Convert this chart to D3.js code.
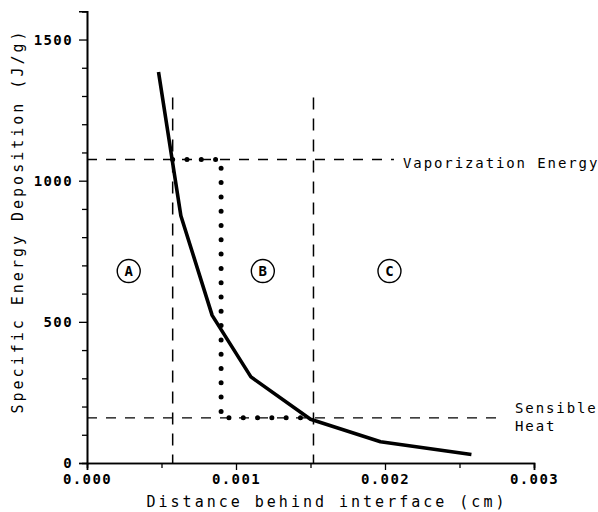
<!DOCTYPE html>
<html>
<head>
<meta charset="utf-8">
<script src="https://cdn.jsdelivr.net/npm/d3@7"></script>
<style>
  body { margin: 0; background: #fff; }
  text { font-family: "DejaVu Sans Mono", monospace; fill: #000; }
</style>
</head>
<body>
<svg id="chart" width="598" height="512"></svg>
<script>
// Energy deposition curve
const distance = [0.00048, 0.00063, 0.00084, 0.0011, 0.0015, 0.00197, 0.00258];
const energy = [1385, 876, 523, 305, 155, 75, 30];

// reference levels and zone boundaries
const vaporEnergy = 1075;
const sensibleHeat = 160;
const zoneEdges = [0.000575, 0.00152];
const zoneTop = 1295;
const dottedPath = [[0.000575, 1075], [0.0009, 1075], [0.0009, 160], [0.00148, 160]];
const zones = [{ label: 'A', x: 0.00028 }, { label: 'B', x: 0.00118 }, { label: 'C', x: 0.00203 }];
const zoneLabelY = 680;

const xTicks = [0, 0.001, 0.002, 0.003];
const yTicks = [0, 500, 1000, 1500];

const svg = d3.select('#chart');
const x = d3.scaleLinear().domain([0, 0.003]).range([87, 534]);
const y = d3.scaleLinear().domain([0, 1600]).range([463, 11.3]);

// Axes
const xAxis = d3.axisBottom(x).tickValues(xTicks).tickFormat(d3.format('.3f')).tickSize(7).tickPadding(4);
const xMinor = d3.axisBottom(x).tickValues([0.0005, 0.0015, 0.0025]).tickFormat('').tickSize(5);
const yAxis = d3.axisLeft(y).tickValues(yTicks).tickFormat(d3.format('d')).tickSize(8).tickPadding(6);
const yMinor = d3.axisLeft(y).tickValues(d3.range(100, 1601, 100).filter(v => v % 500)).tickFormat('').tickSize(5);

function styleAxis(g) {
  g.select('.domain').attr('stroke', '#000').attr('stroke-width', 1.6);
  g.selectAll('.tick line').attr('stroke', '#000').attr('stroke-width', 1.3);
  g.selectAll('.tick text')
    .style('font-family', '"DejaVu Sans Mono", monospace')
    .style('font-size', '14px').style('font-weight', 'bold').style('letter-spacing', '1.4px');
}

svg.append('g').attr('transform', 'translate(0,463)').call(xAxis).call(styleAxis);
svg.append('g').attr('transform', 'translate(0,463)').call(xMinor).call(styleAxis);
svg.append('g').attr('transform', 'translate(87,0)').call(yAxis).call(styleAxis);
svg.append('g').attr('transform', 'translate(87,0)').call(yMinor).call(styleAxis);

// Axis titles
svg.append('text')
  .attr('x', 327).attr('y', 507)
  .attr('text-anchor', 'middle')
  .style('font-size', '15px').style('letter-spacing', '3px')
  .text('Distance behind interface (cm)');

svg.append('text')
  .attr('transform', 'translate(23,221) rotate(-90)')
  .attr('text-anchor', 'middle')
  .style('font-size', '15px').style('letter-spacing', '3px')
  .text('Specific Energy Deposition (J/g)');

// Dashed reference lines
const dash = '10,9';
svg.append('line')
  .attr('x1', x(0)).attr('x2', x(0.00206))
  .attr('y1', y(vaporEnergy)).attr('y2', y(vaporEnergy))
  .attr('stroke', '#000').attr('stroke-width', 1.3).attr('stroke-dasharray', dash);
svg.append('line')
  .attr('x1', x(0)).attr('x2', x(0.00277))
  .attr('y1', y(sensibleHeat)).attr('y2', y(sensibleHeat))
  .attr('stroke', '#000').attr('stroke-width', 1.3).attr('stroke-dasharray', dash);

svg.selectAll('.zone-edge')
  .data(zoneEdges)
  .enter().append('line')
  .attr('class', 'zone-edge')
  .attr('x1', d => x(d)).attr('x2', d => x(d))
  .attr('y1', y(zoneTop)).attr('y2', y(0))
  .attr('stroke', '#000').attr('stroke-width', 1.5).attr('stroke-dasharray', '12,9');

// Reference labels
const labelStyle = sel => sel.style('font-size', '14px').style('letter-spacing', '1.9px');
svg.append('text').attr('x', 403).attr('y', 168).call(labelStyle).text('Vaporization Energy');
svg.append('text').attr('x', 515).attr('y', 413).call(labelStyle).text('Sensible');
svg.append('text').attr('x', 515).attr('y', 431).call(labelStyle).text('Heat');

// Dotted path
const line = d3.line().x(d => x(d[0])).y(d => y(d[1]));
svg.append('path')
  .attr('d', line(dottedPath))
  .attr('fill', 'none').attr('stroke', '#000')
  .attr('stroke-width', 5).attr('stroke-linecap', 'round')
  .attr('stroke-dasharray', '0,14.3');

// Main curve
svg.append('path')
  .attr('d', line(distance.map((d, i) => [d, energy[i]])))
  .attr('fill', 'none').attr('stroke', '#000')
  .attr('stroke-width', 3.6).attr('stroke-linejoin', 'round');

// Zone markers
const zg = svg.selectAll('.zone')
  .data(zones)
  .enter().append('g')
  .attr('transform', d => `translate(${x(d.x)},${y(zoneLabelY)})`);
zg.append('circle').attr('r', 11.5).attr('fill', 'none').attr('stroke', '#000').attr('stroke-width', 1.4);
zg.append('text')
  .attr('text-anchor', 'middle').attr('dy', '0.36em')
  .style('font-size', '14px').style('font-weight', 'bold')
  .text(d => d.label);
</script>
</body>
</html>
